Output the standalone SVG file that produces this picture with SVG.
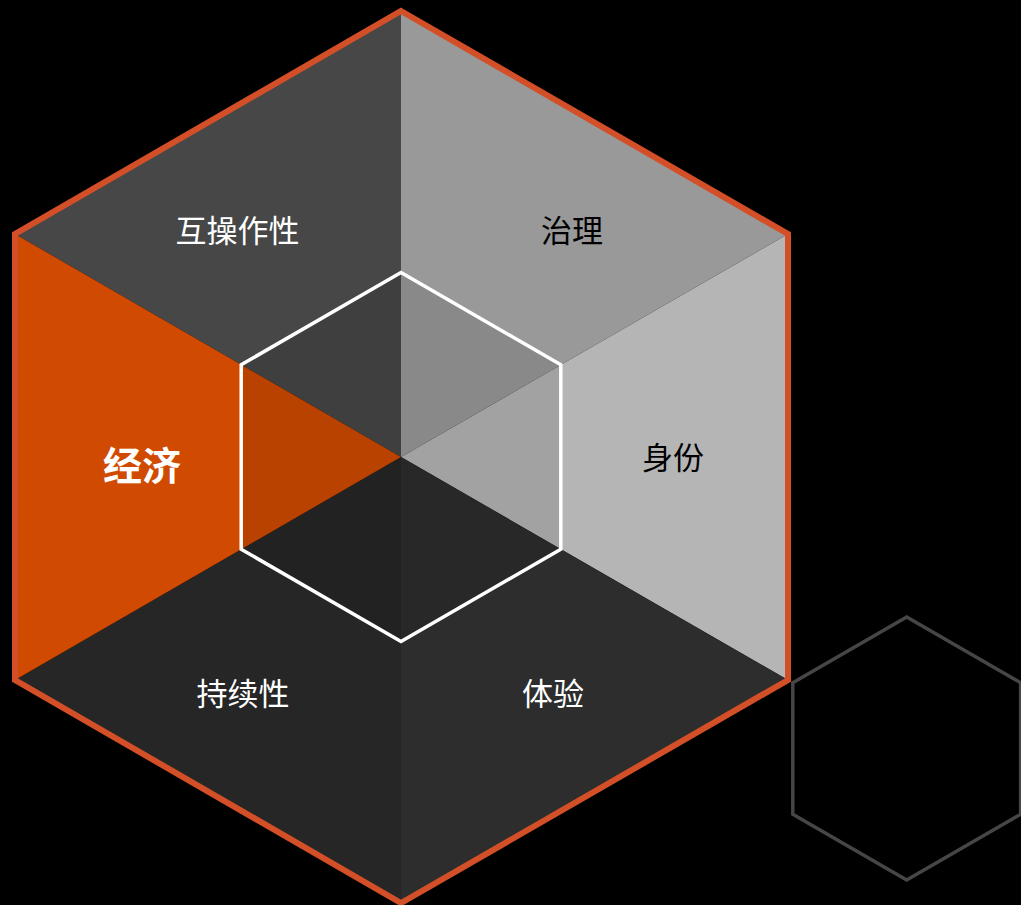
<svg xmlns="http://www.w3.org/2000/svg" width="1021" height="905" viewBox="0 0 1021 905">
  <style>
    .lbl { font-family: "Noto Sans CJK SC", "Noto Sans", sans-serif; font-size: 31px; text-anchor: middle; }
    .light { fill: #ffffff; }
    .dark { fill: #000000; }
    .big { font-size: 39px; font-weight: bold; }
  </style>
  <rect x="0" y="0" width="1021" height="905" fill="#000000"/>
  <g id="sector-interop">
    <polygon points="401,457 15,234 401,11" fill="#474747"/>
  </g>
  <g id="sector-governance">
    <polygon points="401,457 401,11 788,234" fill="#999999"/>
  </g>
  <g id="sector-identity">
    <polygon points="401,457 788,234 788,680" fill="#b5b5b5"/>
  </g>
  <g id="sector-experience">
    <polygon points="401,457 788,680 401,903" fill="#2d2d2d"/>
  </g>
  <g id="sector-sustainability">
    <polygon points="401,457 401,903 15,680" fill="#262626"/>
  </g>
  <g id="sector-economy">
    <polygon points="401,457 15,680 15,234" fill="#d04a02"/>
  </g>
  <g id="outer-frame">
    <polygon points="401,11 788,234 788,680 401,903 15,680 15,234" fill="none" stroke="#d24f27" stroke-width="6"/>
  </g>
  <g id="inner-hex">
    <polygon points="401,272.5 560.8,364.75 560.8,549.25 401,641.5 241.2,549.25 241.2,364.75" fill="#000000" fill-opacity="0.1" stroke="#ffffff" stroke-width="3.5"/>
  </g>
  <g id="small-hex">
    <polygon points="906.7,617 1020.6,682.75 1020.6,814.25 906.7,880 792.8,814.25 792.8,682.75" fill="none" stroke="#464646" stroke-width="3.5"/>
  </g>
  <g id="labels">
    <text class="lbl light" x="237.5" y="242">互操作性</text>
    <text class="lbl dark" x="572" y="242">治理</text>
    <text class="lbl dark" x="673" y="469">身份</text>
    <text class="lbl light big" x="142" y="480">经济</text>
    <text class="lbl light" x="243" y="705">持续性</text>
    <text class="lbl light" x="553" y="705">体验</text>
  </g>
  <g id="connectors"></g>
</svg>
